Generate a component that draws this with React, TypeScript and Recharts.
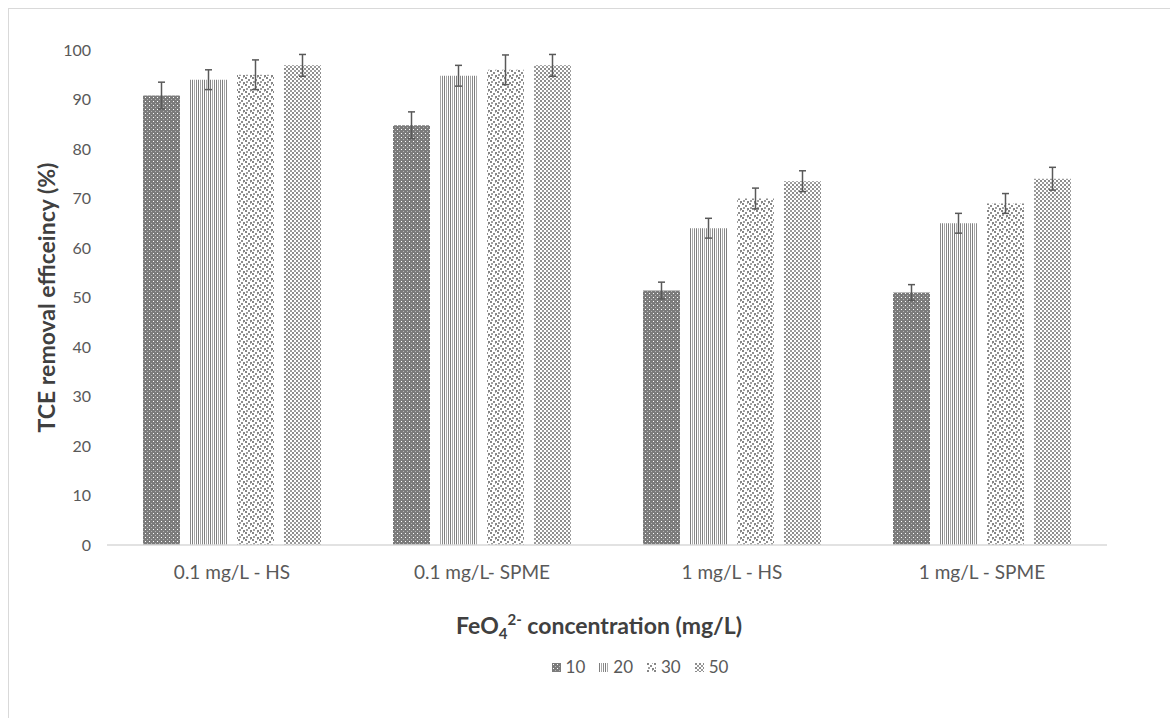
import { BarChart, Bar, XAxis, YAxis, ErrorBar } from "recharts";

const categories = ["0.1 mg/L - HS", "0.1 mg/L- SPME", "1 mg/L - HS", "1 mg/L - SPME"];
const seriesNames = ["10", "20", "30", "50"];
const values10 = [90.8, 84.8, 51.4, 51];
const values20 = [94, 94.8, 64, 65];
const values30 = [95, 96, 70, 69];
const values50 = [96.9, 96.9, 73.5, 74];
const err10 = [2.7, 2.7, 1.7, 1.6];
const err20 = [2, 2.1, 2, 2];
const err30 = [3, 3, 2.1, 2];
const err50 = [2.2, 2.2, 2.1, 2.3];
const yTicks = [0, 10, 20, 30, 40, 50, 60, 70, 80, 90, 100];

const data = categories.map((name, i) => ({
  name,
  v10: values10[i],
  v20: values20[i],
  v30: values30[i],
  v50: values50[i],
  e10: err10[i],
  e20: err20[i],
  e30: err30[i],
  e50: err50[i],
}));

const FONT = "Lato, 'Open Sans', sans-serif";
const patternIds = ["p10", "p20", "p30", "p50"];

function Patterns() {
  return (
    <defs>
      <pattern id="p10" width="4" height="4" patternUnits="userSpaceOnUse">
        <rect width="4" height="4" fill="#7b7b7b" />
        <rect x="1" y="1" width="1" height="1" fill="#ffffff" />
        <rect x="3" y="3" width="1" height="1" fill="#b4b4b4" />
      </pattern>
      <pattern id="p20" width="6" height="4" patternUnits="userSpaceOnUse">
        <rect width="6" height="4" fill="#ffffff" />
        <rect x="0" width="1" height="4" fill="#7f7f7f" />
        <rect x="2" width="1" height="4" fill="#a8a8a8" />
        <rect x="4" width="1" height="4" fill="#8a8a8a" />
      </pattern>
      <pattern id="p30" width="7" height="7" patternUnits="userSpaceOnUse">
        <rect width="7" height="7" fill="#ffffff" />
        <rect x="0" y="0" width="2" height="2" fill="#868686" />
        <rect x="3" y="2" width="2" height="2" fill="#8e8e8e" />
        <rect x="5" y="5" width="2" height="2" fill="#868686" />
        <rect x="1" y="4" width="2" height="2" fill="#a0a0a0" />
        <rect x="5" y="0" width="1" height="1" fill="#b0b0b0" />
      </pattern>
      <pattern id="p50" width="4" height="4" patternUnits="userSpaceOnUse">
        <rect width="4" height="4" fill="#ffffff" />
        <rect x="0" y="0" width="2" height="2" fill="#8c8c8c" />
        <rect x="2" y="2" width="2" height="2" fill="#9c9c9c" />
      </pattern>
    </defs>
  );
}

function XTitle({ viewBox }: any) {
  const cx = viewBox.x + viewBox.width / 2 - 8;
  const y = viewBox.y + 89;
  return (
    <text x={cx} y={y} textAnchor="middle" fontFamily={FONT} fontWeight={700} fontSize={23} fill="#404040">
      FeO
      <tspan fontSize={15} dy={5}>4</tspan>
      <tspan fontSize={15} dy={-14}>2-</tspan>
      <tspan dy={9}> concentration (mg/L)</tspan>
    </text>
  );
}

function YTitle({ viewBox }: any) {
  const x = 46;
  const y = viewBox.y + viewBox.height / 2;
  return (
    <text
      x={x}
      y={y}
      transform={`rotate(-90, ${x}, ${y})`}
      textAnchor="middle"
      dominantBaseline="central"
      fontFamily={FONT}
      fontWeight={700}
      fontSize={23}
      fill="#404040"
    >
      TCE removal efficeincy (%)
    </text>
  );
}

export default function App() {
  return (
    <div style={{ position: "absolute", left: 0, top: 0, width: 1170, height: 718, background: "#fff", fontFamily: FONT }}>
      <div style={{ position: "absolute", left: 8, top: 8, width: 1162, height: 710, borderLeft: "1px solid #d9d9d9", borderTop: "1px solid #d9d9d9" }} />
      <BarChart
        width={1170}
        height={718}
        data={data}
        margin={{ top: 50, right: 63, bottom: 0, left: 47 }}
        barCategoryGap={36}
        barGap={10}
      >
        <Patterns />
        <XAxis
          dataKey="name"
          height={173}
          tickLine={false}
          tickSize={0}
          tickMargin={21}
          axisLine={{ stroke: "#d9d9d9", strokeWidth: 1.5 }}
          tick={{ fontSize: 19, fill: "#595959", fontFamily: FONT }}
          label={<XTitle />}
        />
        <YAxis
          width={60}
          domain={[0, 100]}
          ticks={yTicks}
          axisLine={false}
          tickLine={false}
          tickSize={0}
          tickMargin={16}
          tick={{ fontSize: 16, fill: "#595959", fontFamily: FONT }}
          label={<YTitle />}
        />
        {seriesNames.map((s, i) => (
          <Bar key={s} dataKey={`v${s}`} name={s} fill={`url(#${patternIds[i]})`} isAnimationActive={false}>
            <ErrorBar dataKey={`e${s}`} width={3.5} stroke="#595959" strokeWidth={1.5} direction="y" />
          </Bar>
        ))}
      </BarChart>
      <div
        style={{
          position: "absolute",
          top: 656,
          left: 0,
          width: 1280,
          display: "flex",
          justifyContent: "center",
          gap: 14,
          fontSize: 17,
          color: "#595959",
          lineHeight: "22px",
        }}
      >
        {seriesNames.map((s, i) => (
          <div key={s} style={{ display: "flex", alignItems: "center", gap: 5 }}>
            <svg width={9} height={9}>
              <rect width={9} height={9} fill={`url(#${patternIds[i]})`} />
            </svg>
            <span>{s}</span>
          </div>
        ))}
      </div>
    </div>
  );
}
